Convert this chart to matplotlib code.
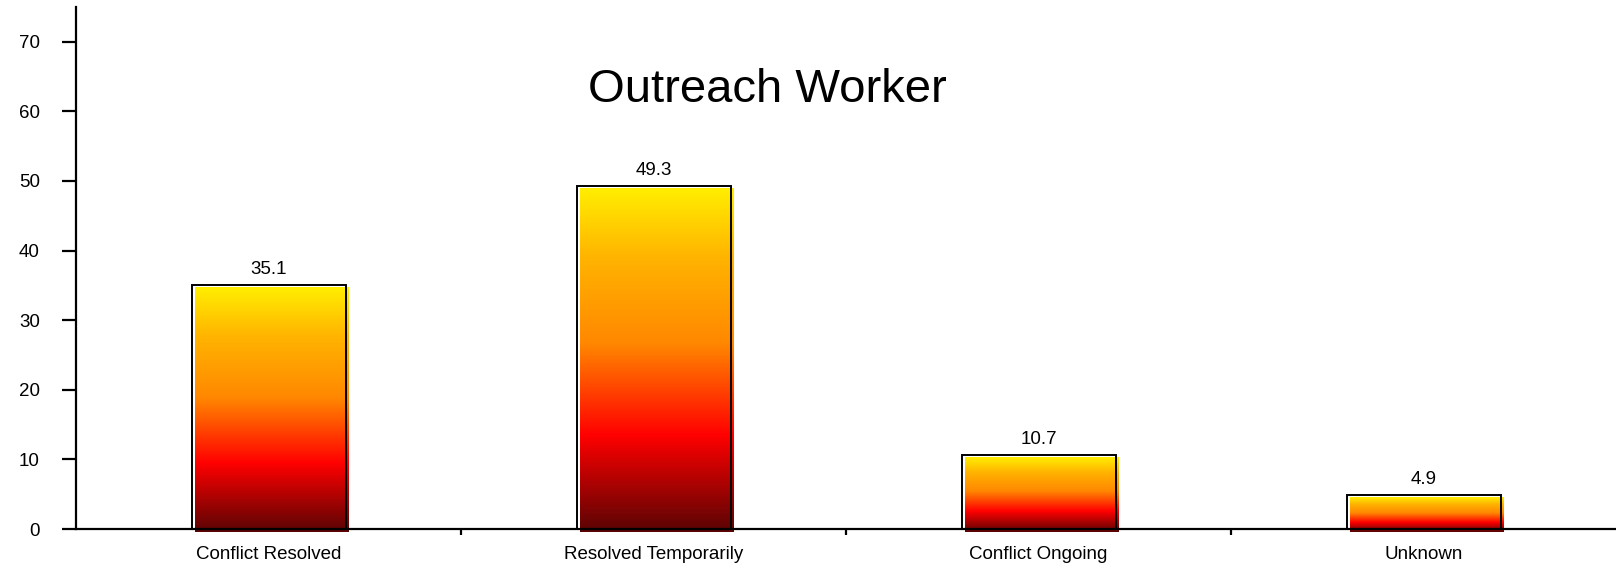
import numpy as np
import matplotlib
matplotlib.use('Agg')
import matplotlib.pyplot as plt
from matplotlib.colors import LinearSegmentedColormap

# chart data
categories = ['Conflict Resolved', 'Resolved Temporarily', 'Conflict Ongoing', 'Unknown']
values = [35.1, 49.3, 10.7, 4.9]
y_ticks = [0, 10, 20, 30, 40, 50, 60, 70]
title = 'Outreach Worker'

plt.rcParams['font.family'] = ['Liberation Sans', 'DejaVu Sans']

# dark red at the bottom of a bar, yellow at the top
fire = LinearSegmentedColormap.from_list(
    'fire', [(0.0, '#5a0404'), (0.28, '#ff0000'), (0.55, '#ff8800'),
             (0.8, '#ffb400'), (1.0, '#ffee00')])

fig = plt.figure(figsize=(16.16, 5.63), dpi=100)
ax = fig.add_axes([76 / 1616, 34 / 563, 1 - 76 / 1616, (529 - 7) / 563])

x = np.arange(len(categories))
bars = ax.bar(x, values, width=0.4, facecolor='none', edgecolor='black',
              linewidth=1.4, zorder=3)

xlim = (-0.5, len(categories) - 0.5)
ylim = (0, 75)

# the gradient fill sits a few pixels right/down of the outline
px_x = (xlim[1] - xlim[0]) / 1540
px_y = (ylim[1] - ylim[0]) / 522
dx, dy = 3 * px_x, 3 * px_y
grad = np.linspace(0, 1, 256).reshape(-1, 1)
for b in bars:
    l = b.get_x()
    w = b.get_width()
    h = b.get_height()
    ax.imshow(grad, cmap=fire, aspect='auto', origin='lower',
              extent=[l + dx, l + w + dx, -dy, h - dy],
              zorder=2, clip_on=False)

ax.bar_label(bars, labels=[f'{v:.1f}' for v in values], padding=5,
             fontsize=13.5)

ax.set_xlim(*xlim)
ax.set_ylim(*ylim)

ax.spines['top'].set_visible(False)
ax.spines['right'].set_visible(False)
ax.spines['left'].set_linewidth(1.6)
ax.spines['bottom'].set_linewidth(1.6)

ax.set_yticks(y_ticks)
ax.tick_params(axis='y', length=10, width=1.6, pad=16, labelsize=13.5)

ax.set_xticks(x)
ax.set_xticklabels(categories)
ax.tick_params(axis='x', which='major', length=0, pad=12.5, labelsize=13.5)
ax.set_xticks(x[:-1] + 0.5, minor=True)
ax.tick_params(axis='x', which='minor', length=4.5, width=1.6, direction='out')

fig.text(767 / 1616, 1 - 90 / 563, title, fontsize=34, ha='center', va='center')

fig.savefig('out.png', dpi=100)
